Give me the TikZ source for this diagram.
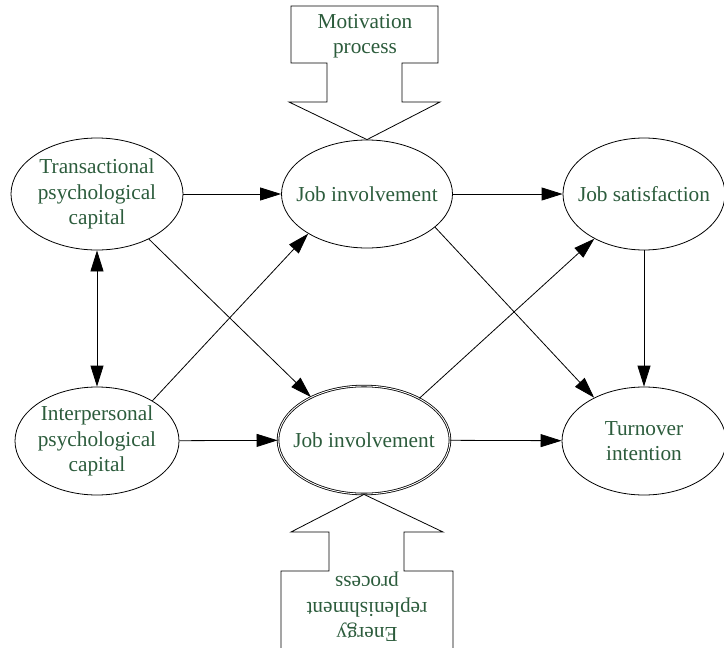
\documentclass[tikz,border=0pt]{standalone}
\usepackage{fontspec}
\setmainfont{Liberation Serif}
\usepackage{xcolor}
\usepackage{tikz}
\usetikzlibrary{arrows.meta,shapes.geometric,calc}

\definecolor{txtgreen}{RGB}{44,92,60}

\tikzset{
  factor/.style={ellipse,draw,line width=0.8pt,inner xsep=-20pt,inner ysep=0pt,align=center,
    text=txtgreen,font=\fontsize{21.3}{25.5}\selectfont},
  link/.style={line width=0.8pt,-{Triangle[length=21pt,width=13pt]}},
  blockarrow/.style={draw,line width=0.8pt,fill=white}
}

\begin{document}
\begin{tikzpicture}[x=1pt,y=-1pt]
\useasboundingbox (0,0) rectangle (724,648);

% Ellipses
\node[factor,minimum width=172pt,minimum height=112pt] (trans) at (97,194) {Transactional\\psychological\\capital};
\node[factor,minimum width=164pt,minimum height=108pt] (inter) at (97,441) {Interpersonal\\psychological\\capital};
\node[factor,minimum width=171pt,minimum height=108pt] (jiA) at (367,194) {Job involvement};
\node[factor,double,double distance=0.9pt,minimum width=172pt,minimum height=108pt] (jiB) at (364,440) {Job involvement};
\node[factor,minimum width=162pt,minimum height=112pt] (jsat) at (644,194) {Job satisfaction};
\node[factor,minimum width=164pt,minimum height=108pt] (turn) at (644,441) {Turnover\\intention};

% Block arrows (motivation from above, energy from below)
\draw[blockarrow] (291,6) -- (438,6) -- (438,63) -- (402,63) -- (402,102) -- (440,102)
  -- (jiA.north) -- (289,102) -- (327,102) -- (327,63) -- (291,63) -- cycle;
\node[text=txtgreen,font=\fontsize{21.3}{25.5}\selectfont,align=center] (motiv) at (365,36) {Motivation\\process};

\draw[blockarrow] (jiB.south) -- (443,532) -- (404,532) -- (404,571) -- (453,571) -- (453,660)
  -- (281,660) -- (281,571) -- (329,571) -- (329,532) -- (291,532) -- cycle;
\node[text=txtgreen,font=\fontsize{21.3}{25.5}\selectfont,align=center,rotate=180] (energy) at (367,607) {Energy\\replenishment\\process};

% Straight links
\draw[link] (trans) -- (jiA);
\draw[link] (jiA) -- (jsat);
\draw[link] (inter) -- (jiB);
\draw[link] (jiB) -- (turn);
\draw[link] (jsat.south) -- (turn.north);
\draw[link,{Triangle[length=21pt,width=13pt]}-{Triangle[length=21pt,width=13pt]}] (trans) -- (inter);

% Crossing links
\draw[link] (trans.-41) -- (jiB.141);
\draw[link] (inter.36) -- (jiA.-146);
\draw[link] (jiA.-26) -- (turn.139);
\draw[link] (jiB.37) -- (jsat.-138);
\end{tikzpicture}
\end{document}
